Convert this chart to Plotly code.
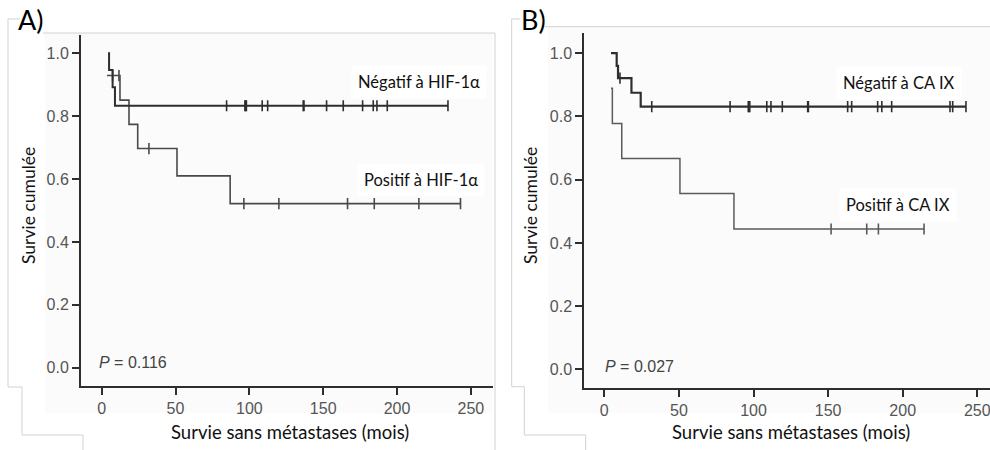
import numpy as np
import plotly.graph_objects as go

# ---------------- data ----------------
# Panel A : HIF-1alpha
A_neg_t = [4.3, 5.0, 7.4, 9.0, 234.5]
A_neg_s = [1.0, 0.947, 0.892, 0.833, 0.833]
A_neg_cens = [84.6, 97.0, 97.5, 98.0, 108.7, 112.4, 136.5, 137.0, 152.3, 163.6,
              176.7, 183.9, 186.4, 193.4, 234.5]

A_pos_t = [3.6, 12.4, 18.5, 24.4, 51.0, 87.0, 243.0]
A_pos_s = [0.929, 0.851, 0.774, 0.697, 0.610, 0.522, 0.522]
A_pos_cens = [7.4, 11.7, 32.0, 96.3, 120.0, 166.5, 184.6, 214.8, 243.0]

# Panel B : CA IX
B_neg_t = [4.5, 8.3, 9.2, 18.2, 24.4, 242.4]
B_neg_s = [1.0, 0.960, 0.921, 0.875, 0.831, 0.831]
B_neg_cens = [10.5, 31.8, 84.3, 96.5, 97.0, 97.5, 108.9, 111.7, 119.3, 136.3,
              136.8, 163.1, 165.8, 183.2, 186.0, 192.6, 231.7, 233.5, 242.4]

B_pos_t = [4.5, 5.4, 11.7, 50.7, 86.9, 214.3]
B_pos_s = [0.889, 0.778, 0.667, 0.556, 0.444, 0.444]
B_pos_cens = [152.0, 175.9, 183.7, 214.3]

x_ticks = [0, 50, 100, 150, 200, 250]
y_ticks = [0.0, 0.2, 0.4, 0.6, 0.8, 1.0]
y_tick_text = ["0.0", "0.2", "0.4", "0.6", "0.8", "1.0"]

labels_A = ["Négatif à HIF-1α", "Positif à HIF-1α"]
labels_B = ["Négatif à CA IX", "Positif à CA IX"]
p_values = ["0.116", "0.027"]
x_title = "Survie sans métastases (mois)"
y_title = "Survie cumulée"


def step_at(t, times, surv):
    """value of the step curve (hv) at time t"""
    idx = np.searchsorted(np.asarray(times), t, side="right") - 1
    idx = np.clip(idx, 0, len(surv) - 1)
    return [surv[i] for i in idx]


DARK = "#2e2e2e"
TXT = "Lato"
NUM = "Liberation Sans"

fig = go.Figure()


def add_curve(t, s, cens, color, width, xa, ya):
    fig.add_trace(go.Scatter(x=t, y=s, mode="lines", line=dict(color=color, width=width, shape="hv"),
                             xaxis=xa, yaxis=ya, showlegend=False, hoverinfo="skip"))
    fig.add_trace(go.Scatter(x=cens, y=step_at(cens, t, s), mode="markers",
                             marker=dict(symbol="line-ns", size=8, line=dict(color=color, width=1.6)),
                             xaxis=xa, yaxis=ya, showlegend=False, hoverinfo="skip"))


add_curve(A_pos_t, A_pos_s, A_pos_cens, "#4a4a4a", 1.6, "x", "y")
add_curve(A_neg_t, A_neg_s, A_neg_cens, DARK, 2.0, "x", "y")
add_curve(B_pos_t, B_pos_s, B_pos_cens, "#5a5a5a", 1.5, "x2", "y2")
add_curve(B_neg_t, B_neg_s, B_neg_cens, DARK, 2.2, "x2", "y2")

W, H = 990, 450


def px(x):
    return x / W


def py(y):
    return 1 - y / H


axis_common = dict(showline=True, linecolor=DARK, linewidth=2, ticks="outside", ticklen=7,
                   tickwidth=2, tickcolor=DARK, showgrid=False, zeroline=False, automargin=False,
                   ticklabeloverflow="allow",
                   tickfont=dict(family=NUM, size=16, color="#555555"))

fig.update_layout(
    template="none",
    width=W, height=H, margin=dict(l=0, r=0, t=0, b=0, pad=0),
    paper_bgcolor="white", plot_bgcolor="rgba(0,0,0,0)",
    xaxis=dict(domain=[px(81), px(493)], range=[-14, 265], tickvals=x_ticks, anchor="y", **axis_common),
    yaxis=dict(domain=[py(385.7), py(35)], range=[-0.057, 1.058], tickvals=y_ticks,
               ticktext=y_tick_text, anchor="x", **axis_common),
    xaxis2=dict(domain=[px(584.3), 1.0], range=[-13.4, 258.5], tickvals=x_ticks, anchor="y2", **axis_common),
    yaxis2=dict(domain=[py(387.7), py(33.3)], range=[-0.058, 1.063], tickvals=y_ticks,
                ticktext=y_tick_text, anchor="x2", **axis_common),
)

shapes = []
# very light tint of the pasted figures
for (x0, y0, x1, y1) in [(45, 33, 493, 413), (548, 27, 990, 413)]:
    shapes.append(dict(type="rect", xref="paper", yref="paper", x0=px(x0), x1=px(x1), y0=py(y1), y1=py(y0),
                       fillcolor="#fbfbfb", line=dict(width=0), layer="below"))
# frame lines of the composed screenshot
frame_paths = [
    [(8, 19), (20, 19)],
    [(8, 19), (8, 387), (22, 387), (22, 435), (83, 435), (83, 450)],
    [(43, 33), (495, 33), (495, 450)],
    [(511.7, 19), (520, 19)],
    [(511.7, 19), (511.7, 386.7), (524.3, 386.7), (524.3, 435), (585.7, 435), (585.7, 450)],
    [(545, 26.7), (990, 26.7)],
]
for pts in frame_paths:
    for (xa, ya), (xb, yb) in zip(pts[:-1], pts[1:]):
        shapes.append(dict(type="line", xref="paper", yref="paper", x0=px(xa), y0=py(ya), x1=px(xb), y1=py(yb),
                           line=dict(color="#d2d2d2", width=1), layer="below"))
fig.update_layout(shapes=shapes)

ann = []
# curve labels
for text, x, y, xr, yr in [(labels_A[0], 214.8, 0.909, "x", "y"), (labels_A[1], 216, 0.597, "x", "y"),
                           (labels_B[0], 197.4, 0.905, "x2", "y2"), (labels_B[1], 196.9, 0.52, "x2", "y2")]:
    ann.append(dict(text=text, x=x, y=y, xref=xr, yref=yr, showarrow=False, xanchor="center", yanchor="middle",
                    font=dict(family=TXT, size=16.5, color="#111111"), bgcolor="white", borderpad=6))
# p values
for pv, x, y, xr, yr in [(p_values[0], -2.5, 0.018, "x", "y"), (p_values[1], 0.0, 0.008, "x2", "y2")]:
    ann.append(dict(text="<i>P</i> = " + pv, x=x, y=y, xref=xr, yref=yr, showarrow=False, xanchor="left",
                    yanchor="middle", borderpad=0, font=dict(family=NUM, size=16, color="#444444")))
# axis titles
for cx in [289.5, 791]:
    ann.append(dict(text=x_title, x=px(cx), y=py(432), xref="paper", yref="paper", showarrow=False,
                    xanchor="center", yanchor="middle", borderpad=0,
                    font=dict(family=TXT, size=18.5, color="#111111")))
for cx in [28, 530]:
    ann.append(dict(text=y_title, x=px(cx), y=py(206), xref="paper", yref="paper", showarrow=False,
                    textangle=-90, xanchor="center", yanchor="middle",
                    font=dict(family=TXT, size=17.5, color="#111111")))
# panel letters
for txt, cx in [("A)", 31), ("B)", 533)]:
    ann.append(dict(text=txt, x=px(cx), y=py(20), xref="paper", yref="paper", showarrow=False,
                    xanchor="center", yanchor="middle", font=dict(family=TXT, size=27, color="#000000")))
fig.update_layout(annotations=ann)

fig.write_html("out.html", config={"displayModeBar": False},
               post_script="document.body.style.margin='0';document.body.style.overflow='hidden';")
